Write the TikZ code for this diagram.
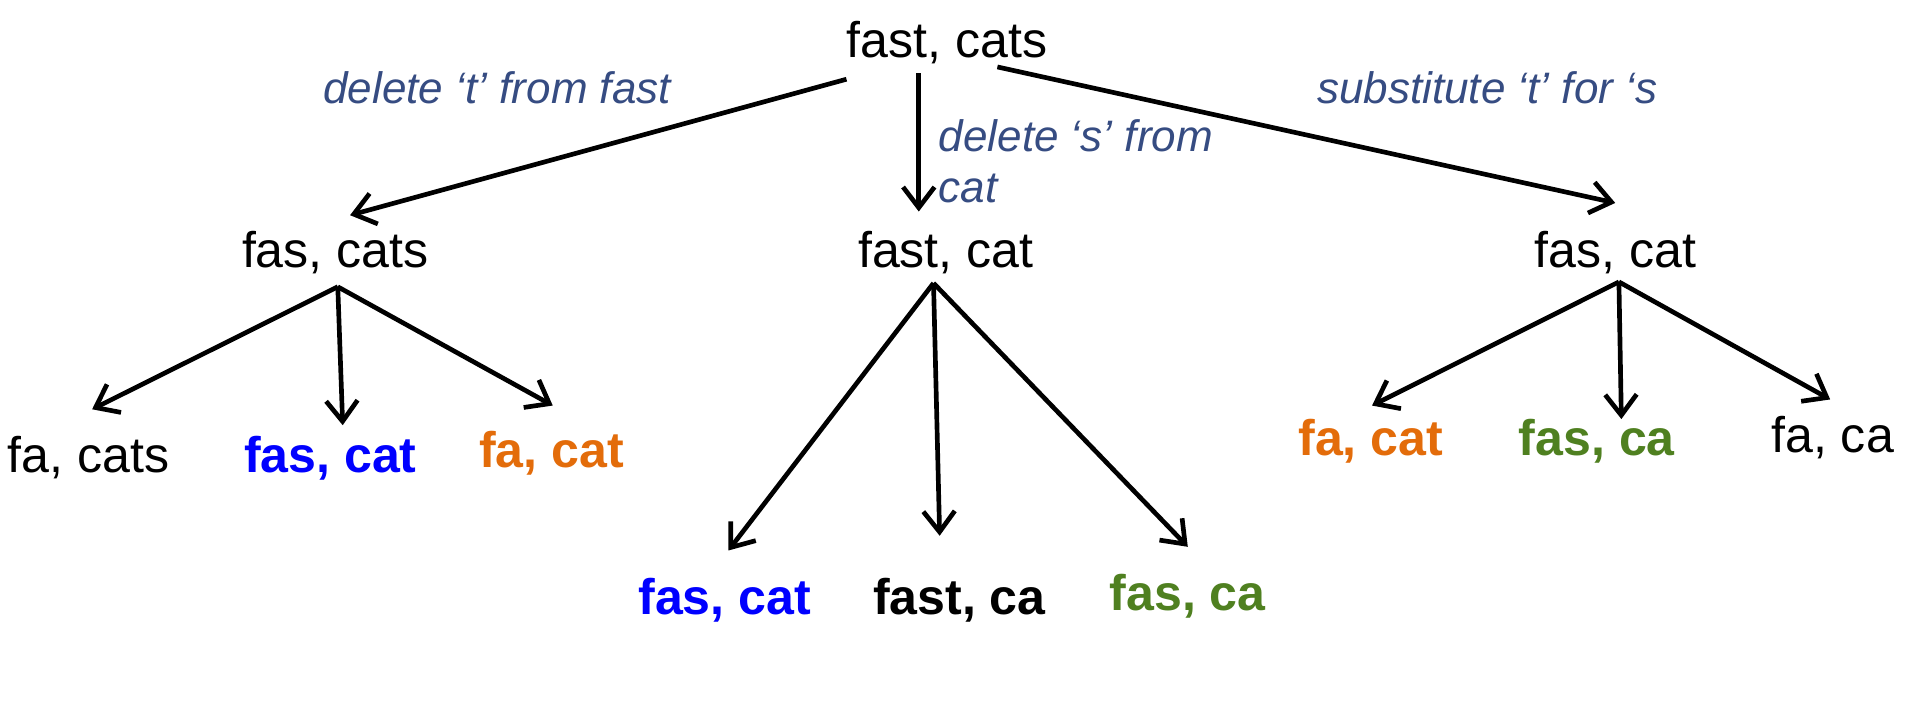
\documentclass[tikz,border=0pt]{standalone}
\usepackage{fontspec}
\setmainfont{Liberation Sans}
\usetikzlibrary{arrows.meta,calc}
\definecolor{editblue}{RGB}{54,76,130}
\definecolor{editorange}{RGB}{227,108,10}
\definecolor{editgreen}{RGB}{79,128,32}
\begin{document}
\begin{tikzpicture}[x=0.025cm,y=-0.025cm,
		word/.style={inner sep=0pt,anchor=base,font=\fontsize{29}{34}\selectfont},
		hit/.style={word,font=\fontsize{29}{34}\selectfont\bfseries},
		edit/.style={inner sep=0pt,text=editblue,font=\fontsize{25.5}{29.5}\selectfont\itshape},
		arr/.style={line width=2.7pt,-{Straight Barb[length=4.2mm,width=6.4mm]}}]
		
		\useasboundingbox (0,0) rectangle (1568,570);
		
		% The two words and the first edits
		\node[word] (root) at (771,47) {fast, cats};
		\node[word] (fascats) at (273,218) {fas, cats};
		\node[word] (fastcat) at (770,218) {fast, cat};
		\node[word] (fascat) at (1315,218) {fas, cat};
		
		\node[edit,anchor=base west] (delt) at (263,84) {delete ‘t’ from fast};
		\node[edit,anchor=north west,align=left] (dels) at (764,97) {delete ‘s’ from\\cat};
		\node[edit,anchor=base west] (subt) at (1072,84) {substitute ‘t’ for ‘s};
		
		% Second edits
		\node[word] (facats) at (72,385) {fa, cats};
		\node[hit,text=blue] (fascatL) at (269,385) {fas, cat};
		\node[hit,text=editorange] (facatL) at (449,381) {fa, cat};
		\node[hit,text=blue] (fascatM) at (590,500) {fas, cat};
		\node[hit] (fastcaM) at (781,500) {fast, ca};
		\node[hit,text=editgreen] (fascaM) at (967,497) {fas, ca};
		\node[hit,text=editorange] (facatR) at (1116,371) {fa, cat};
		\node[hit,text=editgreen] (fascaR) at (1300,371) {fas, ca};
		\node[word] (facaR) at (1492,368) {fa, ca};
		
		% Arrows from the root
		\draw[arr] ($(root.south west)+(0,12)$) -- ($(fascats.north)+(12,-13)$);
		\draw[arr] ($(root.south)+(-23,7)$) -- ($(fastcat.north)+(-22,-16)$);
		\draw[arr] ($(root.south)+(41,2)$) -- ($(fascat.north)+(0,-23)$);
		
		% Arrows from the first level
		\draw[arr] ($(fascats.south)+(2,10)$) -- ($(facats.north)+(3,-22)$);
		\draw[arr] ($(fascats.south)+(2,10)$) -- ($(fascatL.north)+(10,-9)$);
		\draw[arr] ($(fascats.south)+(2,10)$) -- ($(facatL.north)+(1,-21)$);
		
		\draw[arr] ($(fastcat.south)+(-10,7)$) -- ($(fascatM.north)+(3,-22)$);
		\draw[arr] ($(fastcat.south)+(-10,7)$) -- ($(fastcaM.north)+(-16,-34)$);
		\draw[arr] ($(fastcat.south)+(-10,7)$) -- ($(fascaM.north)+(0,-22)$);
		
		\draw[arr] ($(fascat.south)+(3,6)$) -- ($(facatR.north)+(1,-11)$);
		\draw[arr] ($(fascat.south)+(3,6)$) -- ($(fascaR.north)+(20,0)$);
		\draw[arr] ($(fascat.south)+(3,6)$) -- ($(facaR.north)+(-2,-13)$);
	\end{tikzpicture}
\end{document}
